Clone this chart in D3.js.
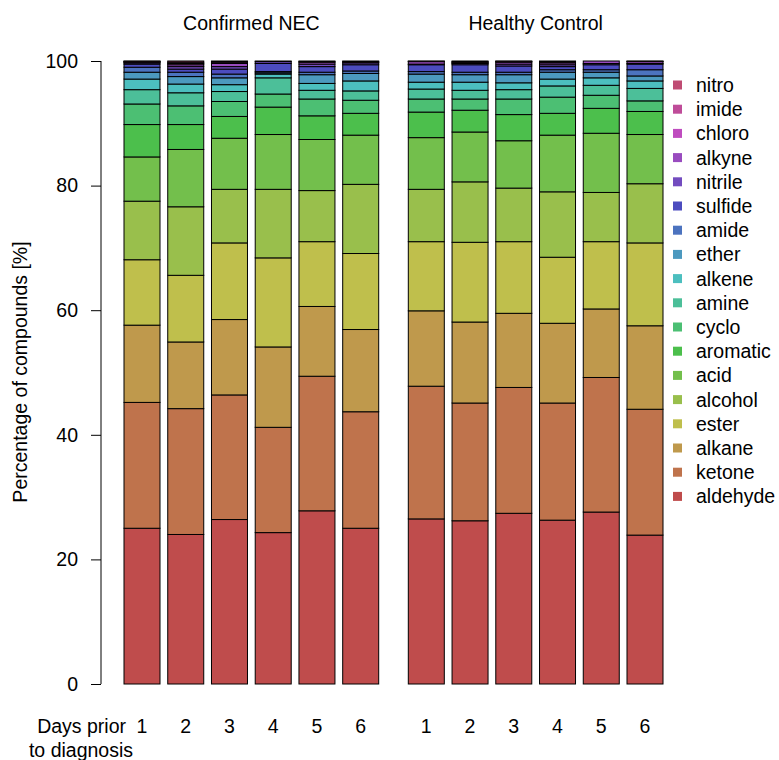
<!DOCTYPE html>
<html><head><meta charset="utf-8">
<script src="https://cdn.jsdelivr.net/npm/d3@7"></script>
<style>body{margin:0;background:#fff}text{font-family:"Liberation Sans",Arial,sans-serif}</style>
</head><body><svg id="c" width="779" height="760"></svg>
<script>
// compounds, bottom to top of each bar
const compounds = ["aldehyde","ketone","alkane","ester","alcohol","acid","aromatic","cyclo","amine","alkene","ether","amide","sulfide","nitrile","alkyne","chloro","imide","nitro"];
const groups = ["Confirmed NEC","Healthy Control"];
const days = ["1","2","3","4","5","6"];
const yTicks = [0,20,40,60,80,100];
// values per compound: 6 Confirmed NEC days then 6 Healthy Control days
const aldehyde = [25.0,24.0,26.4,24.3,27.8,25.0, 26.5,26.2,27.4,26.3,27.6,23.9];
const ketone   = [20.2,20.2,20.0,16.9,21.6,18.7, 21.3,18.9,20.2,18.8,21.6,20.2];
const alkane   = [12.4,10.7,12.1,12.9,11.2,13.2, 12.1,13.0,11.9,12.8,11.0,13.4];
const ester    = [10.5,10.7,12.3,14.3,10.4,12.2, 11.1,12.8,11.5,10.6,10.8,13.3];
const alcohol  = [9.4,11.0,8.6,11.0,8.2,11.1, 8.4,9.7,8.6,10.5,7.9,9.5];
const acid     = [7.1,9.2,8.2,8.8,8.2,7.9, 8.3,8.0,7.6,9.1,9.5,7.9];
const aromatic = [5.2,4.0,3.5,4.4,3.8,3.5, 4.1,3.5,4.2,3.5,4.0,3.7];
const cyclo    = [3.3,3.0,2.4,2.1,2.7,2.1, 2.1,1.8,2.5,2.6,2.1,1.7];
const amine    = [2.3,2.1,1.6,2.6,1.4,1.5, 1.6,1.4,1.5,1.8,1.6,2.0];
const alkene   = [1.7,1.4,1.1,0.6,1.1,1.6, 1.1,1.3,1.1,1.1,1.2,1.2];
const ether    = [1.1,1.2,1.1,0.2,1.4,1.2, 1.3,1.2,1.3,1.1,0.9,0.8];
const amide    = [0.8,0.7,0.6,0.2,0.4,0.4, 0.4,0.4,0.4,0.4,0.4,1.0];
const sulfide  = [0.5,0.5,0.8,1.3,0.9,1.0, 1.1,1.2,1.0,0.5,0.8,0.9];
const nitrile  = [0.2,0.4,0.4,0.3,0.4,0.3, 0.1,0.2,0.3,0.3,0.2,0.1];
const alkyne   = [0.1,0.3,0.5,0.1,0.3,0.1, 0.4,0.1,0.3,0.3,0.4,0.3];
const chloro   = [0.1,0.2,0.2,0.0,0.0,0.0, 0.05,0.1,0.1,0.1,0.0,0.05];
const imide    = [0.05,0.2,0.1,0.0,0.1,0.1, 0.05,0.1,0.05,0.1,0.0,0.05];
const nitro    = [0.05,0.2,0.1,0.0,0.1,0.1, 0.0,0.1,0.05,0.1,0.0,0.0];
const seriesList = [aldehyde,ketone,alkane,ester,alcohol,acid,aromatic,cyclo,amine,alkene,ether,amide,sulfide,nitrile,alkyne,chloro,imide,nitro];

const rows = [];
groups.forEach((g,gi)=>days.forEach((d,di)=>{
  const r = {group:g, day:d, pos: gi*6.5+di};
  compounds.forEach((c,ci)=>{ r[c] = seriesList[ci][gi*6+di]; });
  rows.push(r);
}));

const color = d3.scaleOrdinal().domain(compounds)
  .range(compounds.map((c,i)=>d3.hsl(i*20,0.4737,0.525).formatHex()));

const FS = 19.5;
const svg = d3.select("#c");
const y = d3.scaleLinear().domain([0,100]).range([684,61]);
const x = d3.scaleLinear().domain([0,11.5]).range([142,645]);
const bw = 36;

const stacked = d3.stack().keys(compounds)(rows);
svg.append("g").selectAll("g").data(stacked).join("g")
  .attr("fill", s=>color(s.key))
  .selectAll("rect").data(s=>s).join("rect")
  .attr("x", d=>x(d.data.pos)-bw/2)
  .attr("width", bw)
  .attr("y", d=>y(d[1]))
  .attr("height", d=>Math.max(0,y(d[0])-y(d[1])))
  .attr("stroke","#000").attr("stroke-width",1);

// y axis
const ax = svg.append("g").attr("transform","translate(101,0)")
  .call(d3.axisLeft(y).tickValues(yTicks).tickSize(10).tickPadding(13));
ax.select(".domain").attr("d","M0,"+y(0)+"V"+y(100)).attr("stroke","#000");
ax.selectAll("text").attr("font-size",FS).attr("fill","#000").attr("font-family","Liberation Sans, Arial, sans-serif");
ax.selectAll("line").attr("stroke","#000");

svg.append("text").attr("transform","translate(27,372) rotate(-90)")
  .attr("text-anchor","middle").attr("font-size",FS).text("Percentage of compounds [%]");

// group titles
groups.forEach((g,gi)=>{
  svg.append("text").attr("x", x(gi*6.5+2.5)).attr("y",30)
    .attr("text-anchor","middle").attr("font-size",FS).text(g);
});

// day labels
svg.append("g").selectAll("text").data(rows).join("text")
  .attr("x", d=>x(d.pos)).attr("y",733)
  .attr("text-anchor","middle").attr("font-size",FS).text(d=>d.day);
svg.append("text").attr("x",126).attr("y",733).attr("text-anchor","end").attr("font-size",FS).text("Days prior");
svg.append("text").attr("x",81).attr("y",757).attr("text-anchor","middle").attr("font-size",FS).text("to diagnosis");

// legend
const legend = compounds.slice().reverse();
const lg = svg.append("g").selectAll("g").data(legend).join("g")
  .attr("transform",(d,i)=>`translate(673,${85+i*24.2})`);
lg.append("rect").attr("x",0).attr("y",-4.5).attr("width",9).attr("height",9).attr("fill",d=>color(d));
lg.append("text").attr("x",23).attr("y",7).attr("font-size",FS).text(d=>d);
</script></body></html>
